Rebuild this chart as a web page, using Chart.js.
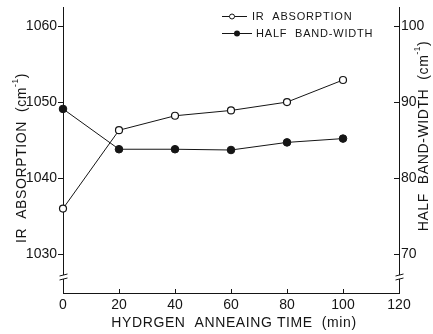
<!DOCTYPE html>
<html>
<head>
<meta charset="utf-8">
<script src="https://cdn.jsdelivr.net/npm/chart.js@4.4.0/dist/chart.umd.min.js"></script>
<style>
  html, body { margin: 0; padding: 0; background: #fff; }
  #wrap { width: 433px; height: 334px; }
</style>
</head>
<body>
<div id="wrap"><canvas id="chart" width="433" height="334"></canvas></div>
<script>
// anneal time (min) vs IR absorption peak and half band-width
const times = [0, 20, 40, 60, 80, 100];
const irAbsorption = [1036.0, 1046.3, 1048.2, 1048.9, 1050.0, 1052.9];
const halfBandWidth = [89.1, 83.8, 83.8, 83.7, 84.7, 85.2];
const xTicks = [0, 20, 40, 60, 80, 100, 120];
const leftTicks = [1030, 1040, 1050, 1060];
const rightTicks = [70, 80, 90, 100];

const INK = '#151515';
const FONT = '"Liberation Sans", Arial, sans-serif';

function pairs(ys) {
    return times.map((t, i) => ({ x: t, y: ys[i] }));
}

// draws a string with a small raised "-1" before the closing bracket
function drawUnitText(ctx, before, after, size) {
    ctx.font = size + 'px ' + FONT;
    let w1 = ctx.measureText(before).width;
    ctx.font = (size * 0.6) + 'px ' + FONT;
    let w2 = ctx.measureText('-1').width;
    ctx.font = size + 'px ' + FONT;
    let w3 = ctx.measureText(after).width;
    let x = -(w1 + w2 + w3) / 2;
    ctx.fillText(before, x, 0);
    ctx.font = (size * 0.6) + 'px ' + FONT;
    ctx.fillText('-1', x + w1, -size * 0.45);
    ctx.font = size + 'px ' + FONT;
    ctx.fillText(after, x + w1 + w2, 0);
}

const decor = {
    id: 'decor',
    afterDraw(chart) {
        const ctx = chart.ctx;
        const { left, right, bottom } = chart.chartArea;
        const sx = chart.scales.x, sy = chart.scales.y, sy1 = chart.scales.y1;
        ctx.save();
        ctx.strokeStyle = INK;
        ctx.fillStyle = INK;
        ctx.lineWidth = 1;

        // tick marks: left outward, right and bottom inward
        ctx.beginPath();
        leftTicks.forEach(v => {
            let p = Math.round(sy.getPixelForValue(v)) + 0.5;
            ctx.moveTo(left - 5, p); ctx.lineTo(left + 0.5, p);
        });
        rightTicks.forEach(v => {
            let p = Math.round(sy1.getPixelForValue(v)) + 0.5;
            ctx.moveTo(right - 5, p); ctx.lineTo(right + 0.5, p);
        });
        xTicks.slice(1, -1).forEach(v => {
            let p = Math.round(sx.getPixelForValue(v)) + 0.5;
            ctx.moveTo(p, bottom - 4); ctx.lineTo(p, bottom);
        });
        ctx.stroke();

        // axis breaks
        [left + 0.5, right + 0.5].forEach(ax => {
            ctx.fillStyle = '#fff';
            ctx.fillRect(ax - 2, 275, 4, 4);
            ctx.beginPath();
            ctx.moveTo(ax - 4, 276); ctx.lineTo(ax + 4, 274);
            ctx.moveTo(ax - 4, 280); ctx.lineTo(ax + 4, 278);
            ctx.stroke();
        });
        ctx.fillStyle = INK;

        // axis titles
        ctx.textBaseline = 'middle';
        ctx.textAlign = 'left';
        ctx.letterSpacing = '0.6px';
        ctx.save();
        ctx.translate(22, 158);
        ctx.rotate(-Math.PI / 2);
        drawUnitText(ctx, 'IR  ABSORPTION  (cm', ')', 14);
        ctx.restore();

        ctx.save();
        ctx.translate(424, 136);
        ctx.rotate(-Math.PI / 2);
        drawUnitText(ctx, 'HALF  BAND-WIDTH  (cm', ')', 14);
        ctx.restore();

        ctx.font = '14px ' + FONT;
        ctx.textAlign = 'center';
        ctx.fillText('HYDRGEN  ANNEAING TIME  (min)', 234, 323);

        // legend
        ctx.font = '11px ' + FONT;
        ctx.letterSpacing = '0.8px';
        ctx.textAlign = 'left';
        ctx.beginPath();
        ctx.moveTo(222, 16.5); ctx.lineTo(247, 16.5);
        ctx.moveTo(222, 33.5); ctx.lineTo(252, 33.5);
        ctx.stroke();
        ctx.fillStyle = '#fff';
        ctx.beginPath();
        ctx.arc(232, 16.5, 2.5, 0, Math.PI * 2);
        ctx.fill(); ctx.stroke();
        ctx.fillStyle = INK;
        ctx.beginPath();
        ctx.arc(237, 33.5, 3, 0, Math.PI * 2);
        ctx.fill();
        ctx.fillText('IR  ABSORPTION', 252, 17);
        ctx.fillText('HALF  BAND-WIDTH', 256, 34);
        ctx.restore();
    }
};

const tickFont = { family: FONT, size: 14 };
const plain = v => String(v);
const fitY = w => s => { s.width = w; s.paddingTop = 0; s.paddingBottom = 0; };

const ctx = document.getElementById('chart').getContext('2d');
new Chart(ctx, {
    type: 'line',
    data: {
        datasets: [{
            label: 'IR ABSORPTION',
            data: pairs(irAbsorption),
            yAxisID: 'y',
            borderColor: INK,
            borderWidth: 1,
            pointRadius: 3.5,
            pointBackgroundColor: '#fff',
            pointBorderColor: INK,
            pointBorderWidth: 1.2,
            tension: 0,
            clip: false
        }, {
            label: 'HALF BAND-WIDTH',
            data: pairs(halfBandWidth),
            yAxisID: 'y1',
            borderColor: INK,
            borderWidth: 1,
            pointRadius: 3.8,
            pointBackgroundColor: INK,
            pointBorderColor: INK,
            pointBorderWidth: 1,
            tension: 0,
            clip: false
        }]
    },
    options: {
        responsive: false,
        animation: false,
        devicePixelRatio: 1,
        layout: { padding: { top: 7, left: 0, right: 0, bottom: 0 } },
        plugins: { legend: { display: false }, tooltip: { enabled: false } },
        scales: {
            x: {
                type: 'linear',
                min: 0, max: 120,
                afterBuildTicks: s => { s.ticks = xTicks.map(v => ({ value: v })); },
                afterFit: s => { s.height = 41; s.paddingLeft = 0; s.paddingRight = 0; },
                grid: { display: false, drawTicks: false },
                border: { display: true, color: INK, width: 1 },
                ticks: { color: INK, font: tickFont, padding: 4, maxRotation: 0, callback: plain }
            },
            y: {
                type: 'linear',
                position: 'left',
                min: 1024.9, max: 1062.5,
                afterBuildTicks: s => { s.ticks = leftTicks.map(v => ({ value: v })); },
                afterFit: fitY(63),
                grid: { display: false, drawTicks: false },
                border: { display: true, color: INK, width: 1 },
                ticks: { color: INK, font: tickFont, padding: 6, callback: plain }
            },
            y1: {
                type: 'linear',
                position: 'right',
                min: 64.9, max: 102.5,
                afterBuildTicks: s => { s.ticks = rightTicks.map(v => ({ value: v })); },
                afterFit: fitY(34),
                grid: { display: false, drawTicks: false },
                border: { display: true, color: INK, width: 1 },
                ticks: { color: INK, font: tickFont, padding: 2, callback: plain }
            }
        }
    },
    plugins: [decor]
});
</script>
</body>
</html>
